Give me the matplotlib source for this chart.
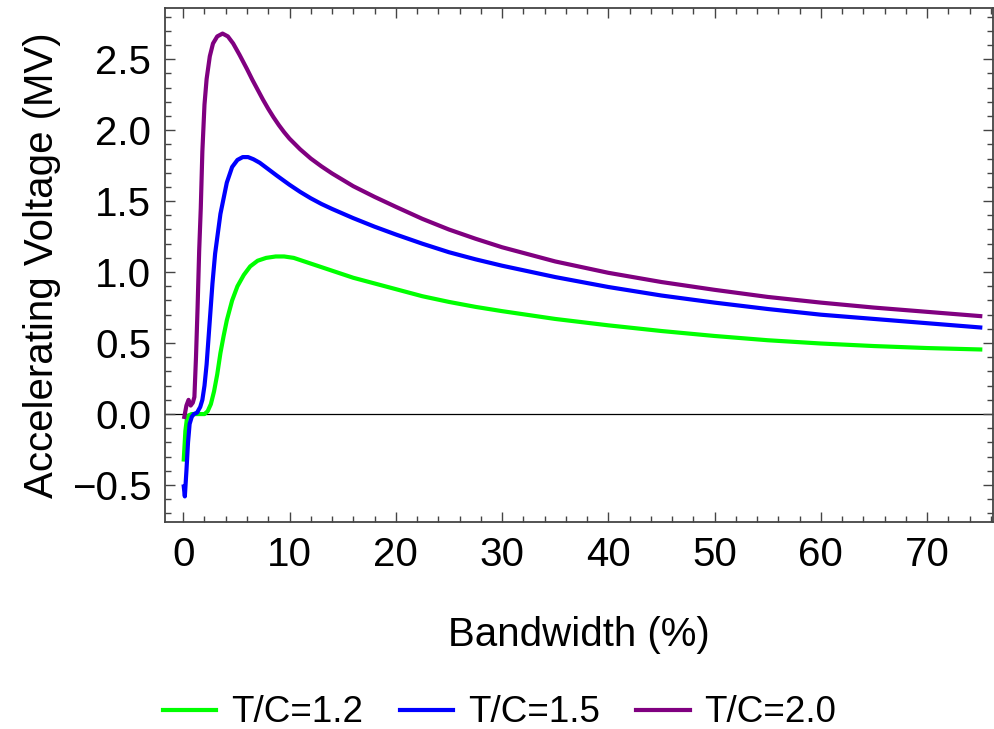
import numpy as np
import matplotlib
matplotlib.use("Agg")
import matplotlib.pyplot as plt
from matplotlib.ticker import MultipleLocator

plt.rcParams['font.family'] = ['Liberation Sans', 'DejaVu Sans']

# ---------------- T/C = 1.2 ---------------- #
bw_12 = [0.05, 0.2, 0.35, 0.5, 0.8, 1.2, 1.6, 2.0, 2.3, 2.6, 2.9, 3.2, 3.5, 3.8,
         4.1, 4.6, 5.1, 5.7, 6.3, 7.0, 7.8, 8.7, 9.5, 10.4, 11.2, 12, 14, 16, 18,
         20, 22.5, 25, 27.5, 30, 35, 40, 45, 50, 55, 60, 65, 70, 75]
v_12 = [-0.32, -0.12, -0.03, -0.01, 0.0, 0.0, 0.0, 0.0, 0.02, 0.07, 0.16, 0.28,
        0.43, 0.55, 0.66, 0.80, 0.90, 0.98, 1.04, 1.08, 1.10, 1.11, 1.11, 1.10,
        1.08, 1.06, 1.01, 0.96, 0.92, 0.88, 0.83, 0.79, 0.755, 0.725, 0.67,
        0.625, 0.585, 0.55, 0.52, 0.497, 0.479, 0.465, 0.455]

# ---------------- T/C = 1.5 ---------------- #
bw_15 = [0.05, 0.15, 0.3, 0.45, 0.6, 0.8, 1.0, 1.3, 1.6, 1.8, 2.0, 2.2, 2.5,
         2.75, 3.0, 3.5, 4.1, 4.6, 5.1, 5.6, 6.1, 6.6, 7.2, 8.0, 8.8, 10.0, 11.0,
         12.0, 13.0, 14, 16, 18, 20, 22.5, 25, 27.5, 30, 35, 40, 45, 50, 55, 60,
         65, 70, 75]
v_15 = [-0.51, -0.58, -0.40, -0.20, -0.07, -0.02, 0.0, 0.01, 0.05, 0.10, 0.20,
        0.35, 0.66, 0.92, 1.13, 1.41, 1.63, 1.74, 1.79, 1.81, 1.81, 1.795, 1.77,
        1.725, 1.68, 1.615, 1.565, 1.52, 1.48, 1.445, 1.38, 1.32, 1.265, 1.20,
        1.14, 1.09, 1.045, 0.965, 0.895, 0.835, 0.785, 0.74, 0.70, 0.67, 0.64,
        0.61]

# ---------------- T/C = 2.0 ---------------- #
bw_20 = [0.1, 0.3, 0.5, 0.7, 0.9, 1.05, 1.2, 1.35, 1.5, 1.65, 1.8, 2.0, 2.2,
         2.5, 2.8, 3.2, 3.7, 4.2, 4.7, 5.3, 6.0, 6.5, 7.0, 7.5, 8.0, 8.5, 9.0,
         9.5, 10.0, 11.0, 12.0, 13.0, 14, 16, 18, 20, 22.5, 25, 27.5, 30, 35, 40,
         45, 50, 55, 60, 65, 70, 75]
v_20 = [-0.02, 0.06, 0.10, 0.06, 0.08, 0.12, 0.40, 0.75, 1.15, 1.45, 1.85,
        2.18, 2.36, 2.52, 2.61, 2.66, 2.68, 2.66, 2.61, 2.53, 2.43, 2.355, 2.285,
        2.215, 2.15, 2.09, 2.035, 1.985, 1.94, 1.865, 1.80, 1.745, 1.695, 1.605,
        1.53, 1.46, 1.375, 1.30, 1.235, 1.175, 1.075, 0.995, 0.93, 0.875, 0.825,
        0.785, 0.75, 0.72, 0.69]

series = [(bw_12, v_12, '#00ff00', 'T/C=1.2'),
          (bw_15, v_15, '#0000ff', 'T/C=1.5'),
          (bw_20, v_20, '#800080', 'T/C=2.0')]

fig = plt.figure(figsize=(9.95, 7.29), dpi=100)
ax = fig.add_axes([0.166, 0.284, 0.832, 0.705])

ax.axhline(0, color='black', lw=0.9, zorder=1)
for bw, v, c, lab in series:
    ax.plot(bw, v, color=c, lw=3.0, label=lab, zorder=2,
            solid_joinstyle='round')

ax.set_xlim(-1.7, 76.2)
ax.set_ylim(-0.76, 2.86)

ax.xaxis.set_major_locator(MultipleLocator(10))
ax.xaxis.set_minor_locator(MultipleLocator(2))
ax.yaxis.set_major_locator(MultipleLocator(0.5))
ax.yaxis.set_minor_locator(MultipleLocator(0.1))
ax.yaxis.set_major_formatter(plt.FuncFormatter(lambda v, p: f"{v:.1f}".replace('-', '\u2212')))

ax.tick_params(which='both', direction='in', top=True, right=True,
               color='#444444', width=1.0, labelsize=29, pad=10)
ax.tick_params(which='major', length=7)
ax.tick_params(which='minor', length=4)
for s in ax.spines.values():
    s.set_color('#444444')
    s.set_linewidth(1.3)

ax.set_xlabel("Bandwidth (%)", fontsize=29, labelpad=30)
ax.set_ylabel("Accelerating Voltage (MV)", fontsize=29, labelpad=8)

fig.legend(loc='center', bbox_to_anchor=(0.502, 0.022), ncol=3, frameon=False,
           fontsize=26.5, handlelength=1.45, handletextpad=0.4, columnspacing=1.0)

fig.savefig("out.png", dpi=100)
